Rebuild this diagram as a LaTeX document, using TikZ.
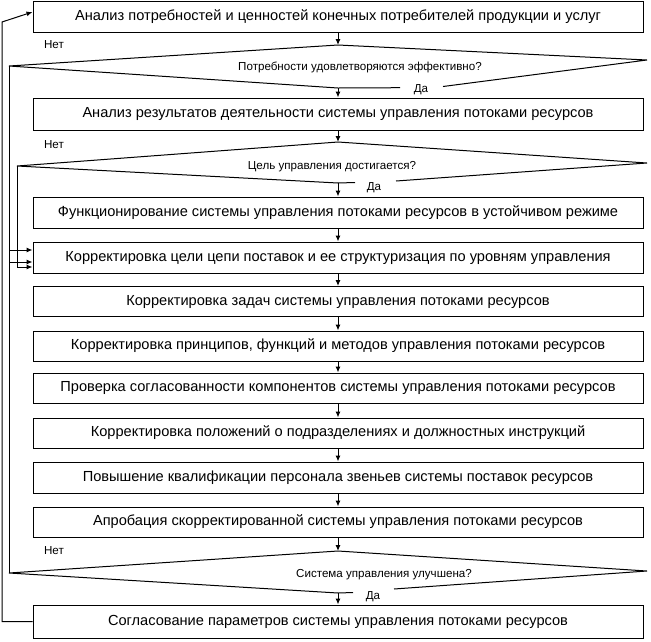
\documentclass[tikz,border=0pt]{standalone}
\usepackage{fontspec}
\setmainfont{Liberation Sans}
\usetikzlibrary{arrows.meta}
\begin{document}
\begin{tikzpicture}[x=1pt,y=-1pt,
  box/.style={draw,line width=1pt,minimum width=610pt,inner sep=0pt,font=\fontsize{14.6}{16}\selectfont},
  lbl/.style={font=\fontsize{11.6}{13}\selectfont,inner sep=1pt},
  arr/.style={-{Latex[length=6pt,width=5pt]},line width=1pt},
  ln/.style={line width=1pt}]
\useasboundingbox (0,0) rectangle (651,641);
\node[box,minimum height=31pt] (b1) at (338,17) {Анализ потребностей и ценностей конечных потребителей продукции и услуг};
\node[box,minimum height=32pt] (b2) at (338,114) {Анализ результатов деятельности системы управления потоками ресурсов};
\node[box,minimum height=31pt] (b3) at (338,212.5) {Функционирование системы управления потоками ресурсов в устойчивом режиме};
\node[box,minimum height=31pt] (b4) at (338,257.5) {Корректировка цели цепи поставок и ее структуризация по уровням управления};
\node[box,minimum height=30pt] (b5) at (338,301.5) {Корректировка задач системы управления потоками ресурсов};
\node[box,minimum height=30pt] (b6) at (338,346) {Корректировка принципов, функций и методов управления потоками ресурсов};
\node[box,minimum height=30pt] (b7) at (338,388) {Проверка согласованности компонентов системы управления потоками ресурсов};
\node[box,minimum height=30pt] (b8) at (338,433) {Корректировка положений о подразделениях и должностных инструкций};
\node[box,minimum height=31pt] (b9) at (338,477.5) {Повышение квалификации персонала звеньев системы поставок ресурсов};
\node[box,minimum height=30pt] (b10) at (338,522) {Апробация скорректированной системы управления потоками ресурсов};
\node[box,minimum height=33pt] (b11) at (338,621.5) {Согласование параметров системы управления потоками ресурсов};
% diamonds
\coordinate (d1t) at (338,45); \coordinate (d1l) at (9,66); \coordinate (d1r) at (647,60); \coordinate (d1b) at (338,88);
\coordinate (d2t) at (338,142); \coordinate (d2l) at (17,166); \coordinate (d2r) at (647,163); \coordinate (d2b) at (338,183);
\coordinate (d3t) at (338,551); \coordinate (d3l) at (9,573); \coordinate (d3r) at (647,571); \coordinate (d3b) at (338,593);
\node[lbl] (q1) at (360,67) {Потребности удовлетворяются эффективно?};
\node[lbl] (q2) at (332,167) {Цель управления достигается?};
\node[lbl] (q3) at (384,575) {Система управления улучшена?};
\node[lbl] (y1) at (421,90) {Да};
\node[lbl] (y2) at (374,188) {Да};
\node[lbl] (y3) at (373,597) {Да};
\node[lbl] (n1) at (54,45) {Нет};
\node[lbl] (n2) at (54,145) {Нет};
\node[lbl] (n3) at (54,551) {Нет};
\draw[ln] (d1b) -- (d1l) -- (d1t) -- (d1r) -- (443,86.5);
\draw[ln] (d1b) -- (400,87.7);
\draw[ln] (d2b) -- (d2l) -- (d2t) -- (d2r) -- (396,181);
\draw[ln] (d2b) -- (355,182.5);
\draw[ln] (d3b) -- (d3l) -- (d3t) -- (d3r) -- (394,589);
\draw[ln] (d3b) -- (353,592.5);
% main arrows
\draw[arr] (b1) -- (d1t);
\draw[arr] (d1b) -- (b2);
\draw[arr] (b2) -- (d2t);
\draw[arr] (d2b) -- (b3);
\draw[arr] (b3) -- (b4);
\draw[arr] (b4) -- (b5);
\draw[arr] (b5) -- (b6);
\draw[arr] (b6) -- (b7);
\draw[arr] (b7) -- (b8);
\draw[arr] (b8) -- (b9);
\draw[arr] (b9) -- (b10);
\draw[arr] (b10) -- (d3t);
\draw[arr] (d3b) -- (b11);
% loops
\draw[arr] (d1l) |- ([yshift=-4.5pt]b4.west);
\draw[arr] (d2l) |- ([yshift=-9.5pt]b4.west);
\draw[arr] (d3l) |- ([yshift=7.5pt]b4.west);
\draw[arr] (b11.west) -| (2,22) -- ([yshift=5pt]b1.west);
\end{tikzpicture}
\end{document}
